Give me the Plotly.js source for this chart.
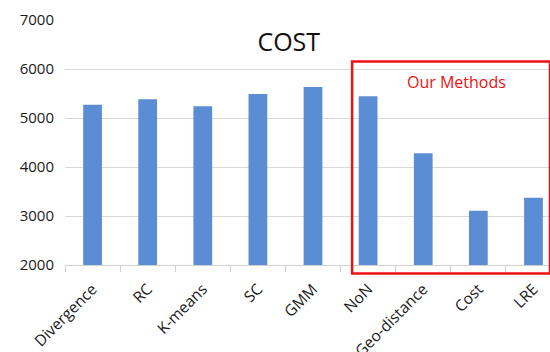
<!DOCTYPE html>
<html>
<head>
<meta charset="utf-8">
<script src="https://cdn.plot.ly/plotly-3.0.1.min.js"></script>
<style>html,body{margin:0;padding:0;background:#fff;}#chart{width:550px;height:352px;}</style>
</head>
<body>
<div id="chart"></div>
<script>
const categories = ["Divergence", "RC", "K-means", "SC", "GMM", "NoN", "Geo-distance", "Cost", "LRE"];
const costValues = [5268, 5384, 5242, 5492, 5634, 5445, 4280, 3108, 3372];
const yTicks = [2000, 3000, 4000, 5000, 6000, 7000];
const chartTitle = "COST";
const boxLabel = "Our Methods";

const font = "Open Sans, Lato, sans-serif";

const data = [{
  type: "bar",
  x: categories,
  y: costValues,
  marker: {color: "#5b8dd4"},
  width: 0.34,
  hoverinfo: "x+y"
}];

const layout = {
  width: 550, height: 352,
  margin: {l: 65, r: 0, t: 19.5, b: 86.5},
  paper_bgcolor: "#fff", plot_bgcolor: "#fff",
  showlegend: false,
  title: {text: chartTitle, font: {family: font, size: 25, color: "#111"}, x: 0.525, xanchor: "center", y: 0.88, yanchor: "middle"},
  xaxis: {
    type: "category",
    range: [-0.5, 8.3],
    tickangle: -45,
    tickfont: {family: font, size: 15.5, color: "#1a1a1a"},
    ticks: "outside", tickson: "boundaries", ticklen: 6, tickcolor: "#d0d0d0",
    ticklabelstandoff: 8,
    showline: true, linecolor: "#d0d0d0", linewidth: 1,
    showgrid: false, zeroline: false
  },
  yaxis: {
    range: [2000, 7000],
    tickvals: yTicks,
    ticktext: yTicks.map(String),
    tickfont: {family: font, size: 15, color: "#1a1a1a"},
    showgrid: true, gridcolor: "#d9d9d9", gridwidth: 1,
    zeroline: false, showline: false, ticks: "", ticklabelstandoff: 10
  },
  shapes: [{
    type: "rect", xref: "paper", yref: "paper",
    x0: 0.592, x1: 1.0, y0: -0.035, y1: 0.831,
    line: {color: "#ee1111", width: 2.5}, fillcolor: "rgba(0,0,0,0)"
  }],
  annotations: [{
    text: boxLabel, xref: "paper", yref: "paper", x: 0.808, y: 0.746,
    xanchor: "center", yanchor: "middle", showarrow: false,
    font: {family: font, size: 16, color: "#ee1111"}
  }]
};

Plotly.newPlot("chart", data, layout, {displayModeBar: false, staticPlot: true});
</script>
</body>
</html>
